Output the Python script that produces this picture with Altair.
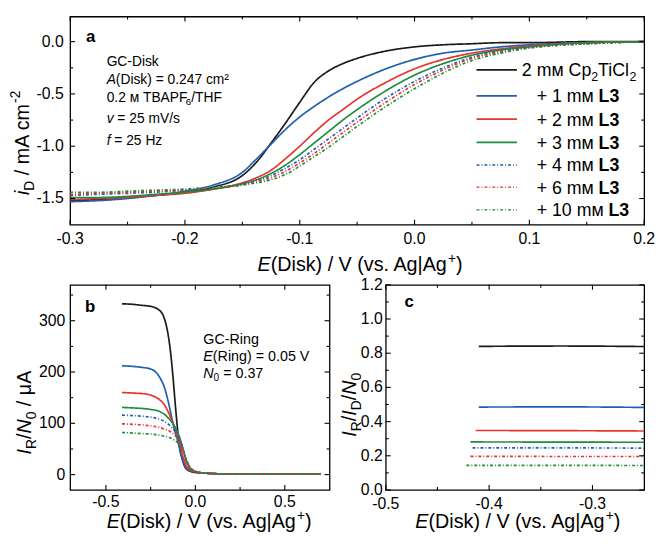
import altair as alt
import pandas as pd

FONT = "Liberation Sans"

# ---------------- data ----------------
SERIES = ["2 mM Cp2TiCl2", "+ 1 mM L3", "+ 2 mM L3", "+ 3 mM L3",
          "+ 4 mM L3", "+ 6 mM L3", "+ 10 mM L3"]
L3_AMOUNTS = [1, 2, 3, 4, 6, 10]
COLORS = ["#1a1a1a", "#1f5fb0", "#e8322e", "#1e8c3c", "#1f5fb0", "#e8322e", "#1e8c3c"]
DASHES = [[1, 0], [1, 0], [1, 0], [1, 0], [3, 2, 1, 2], [3, 2, 1, 2], [3, 2, 1, 2]]
WIDTHS = [1.7, 1.7, 1.7, 1.7, 1.3, 1.3, 1.3]

# panel a: disk current density i_D (mA cm^-2) vs E(Disk)
E_A = [-0.30, -0.275, -0.25, -0.225, -0.20, -0.175, -0.15, -0.1375, -0.125, -0.1125,
       -0.10, -0.0875, -0.075, -0.0625, -0.05, -0.025, 0.00, 0.025, 0.05, 0.075,
       0.10, 0.15, 0.20]
ID_0 = [-1.52, -1.51, -1.49, -1.47, -1.44, -1.39, -1.28, -1.15, -0.97, -0.78,
        -0.58, -0.39, -0.28, -0.21, -0.16, -0.09, -0.05, -0.03, -0.02, -0.01,
        -0.01, 0.0, 0.0]
ID_1 = [-1.53, -1.52, -1.50, -1.47, -1.43, -1.37, -1.25, -1.12, -0.98, -0.84,
        -0.72, -0.62, -0.53, -0.45, -0.38, -0.26, -0.17, -0.11, -0.08, -0.05,
        -0.03, -0.01, 0.0]
ID_2 = [-1.51, -1.50, -1.49, -1.47, -1.45, -1.41, -1.35, -1.30, -1.23, -1.12,
        -1.00, -0.87, -0.75, -0.65, -0.55, -0.39, -0.26, -0.17, -0.11, -0.07,
        -0.04, -0.01, 0.0]
ID_3 = [-1.49, -1.49, -1.48, -1.46, -1.44, -1.41, -1.36, -1.32, -1.26, -1.18,
        -1.08, -0.97, -0.86, -0.75, -0.65, -0.47, -0.32, -0.21, -0.13, -0.08,
        -0.05, -0.01, 0.0]
ID_4 = [-1.47, -1.46, -1.45, -1.44, -1.42, -1.40, -1.36, -1.33, -1.28, -1.21,
        -1.13, -1.03, -0.93, -0.83, -0.73, -0.54, -0.38, -0.25, -0.15, -0.09,
        -0.05, -0.02, 0.0]
ID_6 = [-1.46, -1.45, -1.44, -1.43, -1.42, -1.40, -1.37, -1.34, -1.30, -1.24,
        -1.16, -1.07, -0.97, -0.87, -0.77, -0.58, -0.41, -0.27, -0.16, -0.10,
        -0.06, -0.02, 0.0]
ID_10 = [-1.44, -1.44, -1.43, -1.42, -1.41, -1.39, -1.37, -1.35, -1.32, -1.27,
         -1.19, -1.10, -1.01, -0.91, -0.81, -0.62, -0.45, -0.30, -0.18, -0.11,
         -0.06, -0.02, 0.0]

# panel b: I_R/N_0 (uA) vs E(Disk)
E_B = [-0.41, -0.35, -0.30, -0.25, -0.20, -0.175, -0.15, -0.1375, -0.125, -0.1125,
       -0.10, -0.0875, -0.075, -0.0625, -0.05, -0.025, 0.0, 0.05, 0.10, 0.20,
       0.30, 0.50, 0.70]
IR_0 = [333, 332, 330, 328, 320, 306, 268, 235, 190, 138, 90, 52, 33, 18, 11, 6, 4, 3, 2, 1, 1, 1, 1]
IR_1 = [212, 211, 209, 206, 190, 172, 140, 120, 100, 82, 68, 49, 32, 20, 12, 7, 5, 3, 2, 1, 1, 1, 1]
IR_2 = [160, 159, 158, 155, 146, 137, 121, 111, 100, 90, 78, 62, 42, 28, 16, 8, 5, 3, 2, 1, 1, 1, 1]
IR_3 = [131, 130, 129, 127, 123, 118, 110, 105, 99, 92, 83, 72, 58, 41, 26, 10, 6, 3, 2, 1, 1, 1, 1]
IR_4 = [116, 115, 114, 112, 108, 104, 98, 94, 89, 84, 77, 68, 57, 42, 27, 11, 6, 3, 2, 1, 1, 1, 1]
IR_6 = [99, 98, 97, 95, 92, 89, 86, 83, 80, 76, 71, 64, 55, 42, 28, 12, 6, 3, 2, 1, 1, 1, 1]
IR_10 = [82, 81, 80, 79, 77, 75, 73, 71, 69, 66, 63, 58, 51, 41, 29, 13, 7, 3, 2, 1, 1, 1, 1]

# panel c: I_R/I_D/N_0 vs E(Disk)
E_C_START = [-0.410, -0.410, -0.413, -0.418, -0.416, -0.418, -0.422]
E_C_MID = [-0.33, -0.33, -0.33, -0.33, -0.33, -0.33, -0.33]
E_C_END = [-0.25, -0.25, -0.25, -0.25, -0.25, -0.25, -0.25]
RATIO_START = [0.840, 0.485, 0.348, 0.281, 0.246, 0.197, 0.144]
RATIO_MID = [0.842, 0.486, 0.347, 0.280, 0.246, 0.196, 0.144]
RATIO_END = [0.839, 0.483, 0.345, 0.279, 0.245, 0.196, 0.143]

# axis tick values
XMAJ_A = [-0.3, -0.2, -0.1, 0.0, 0.1, 0.2]
XMIN_A = [-0.25, -0.15, -0.05, 0.05, 0.15]
YMAJ_A = [0.0, -0.5, -1.0, -1.5]
YMIN_A = [-0.25, -0.75, -1.25]
XMAJ_B = [-0.5, 0.0, 0.5]
XMIN_B = [-0.25, 0.25]
YMAJ_B = [0, 100, 200, 300]
YMIN_B = [50, 150, 250, 350]
XMAJ_C = [-0.5, -0.4, -0.3]
XMIN_C = [-0.45, -0.35]
YMAJ_C = [0.0, 0.2, 0.4, 0.6, 0.8, 1.0, 1.2]
YMIN_C = [0.1, 0.3, 0.5, 0.7, 0.9, 1.1]

# ---------------- tables ----------------
def long_table(xs, ys_list):
    rows = []
    for s, ys in zip(SERIES, ys_list):
        for x, y in zip(xs, ys):
            rows.append({"E": x, "v": y, "s": s})
    return pd.DataFrame(rows)

df_a = long_table(E_A, [ID_0, ID_1, ID_2, ID_3, ID_4, ID_6, ID_10])
df_b = long_table(E_B, [IR_0, IR_1, IR_2, IR_3, IR_4, IR_6, IR_10])
rows_c = []
for i, s in enumerate(SERIES):
    for x, y in ((E_C_START[i], RATIO_START[i]), (E_C_MID[i], RATIO_MID[i]),
                 (E_C_END[i], RATIO_END[i])):
        rows_c.append({"E": x, "v": y, "s": s})
df_c = pd.DataFrame(rows_c)

ONE = pd.DataFrame({"k": [0]})

# ---------------- text helpers ----------------
W = {' ': .278, '(': .333, ')': .333, '+': .584, '-': .333, '.': .278, '/': .278,
     '=': .584, '|': .26, 'A': .667, 'C': .722, 'D': .722, 'E': .667, 'F': .611,
     'G': .778, 'H': .722, 'I': .278, 'K': .667, 'L': .556, 'M': .833, 'N': .722,
     'P': .667, 'R': .722, 'S': .667, 'T': .611, 'V': .667, 'a': .556, 'c': .5,
     'd': .556, 'e': .556, 'f': .278, 'g': .556, 'i': .222, 'k': .5, 'l': .222,
     'm': .833, 'n': .556, 'o': .556, 'p': .556, 'r': .333, 's': .5, 't': .278,
     'v': .5, 'z': .5, 'μ': .576, '²': .333, 'м': .68}


def text_width(t):
    return sum(W.get(ch, 0.556) for ch in t)


def rich(segs, x, y, size, rotate=False, sub_scale=0.7):
    out = []
    d = 0.0
    for txt, st in segs:
        small = st in ("sub", "sup")
        fs = size * sub_scale if small else size
        shift = 0.25 * size if st == "sub" else (-0.42 * size if st == "sup" else 0.0)
        lead = len(txt) - len(txt.lstrip(" "))
        d += lead * W[" "] * fs
        core = txt.strip(" ")
        if core:
            if rotate:
                px, py = x + shift, y - d
            else:
                px, py = x + d, y + shift
            mk = dict(text=core, font=FONT, fontSize=fs, align="left",
                      baseline="alphabetic", color="black")
            if st == "i":
                mk["fontStyle"] = "italic"
            if st == "b":
                mk["fontWeight"] = "bold"
            if rotate:
                mk["angle"] = 270
            out.append(alt.Chart(ONE).mark_text(**mk).encode(x=alt.value(px), y=alt.value(py)))
        d += text_width(txt.lstrip(" ")) * fs
    return out


def labels_df(vals, fmt):
    return pd.DataFrame({"t": vals, "lab": [format(v, fmt) for v in vals]})


def panel(df, xdom, ydom, xmaj, xmin_, ymaj, ymin_, xfmt, yfmt, xpad, ypad, w, h, extra):
    xs = alt.Scale(domain=xdom, nice=False, zero=False)
    ys = alt.Scale(domain=ydom, nice=False, zero=False)
    main = alt.Chart(df).mark_line(interpolate="monotone", clip=True).encode(
        x=alt.X("E:Q", scale=xs, axis=None),
        y=alt.Y("v:Q", scale=ys, axis=None),
        color=alt.Color("s:N", scale=alt.Scale(domain=SERIES, range=COLORS), legend=None),
        strokeDash=alt.StrokeDash("s:N", scale=alt.Scale(domain=SERIES, range=DASHES), legend=None),
        strokeWidth=alt.StrokeWidth("s:N", scale=alt.Scale(domain=SERIES, range=WIDTHS), legend=None),
    )
    layers = [main]
    for vals, size in ((xmaj, 5), (xmin_, 3)):
        tdf = pd.DataFrame({"t": vals})
        for y0, y1 in ((h, h - size), (0, size)):
            layers.append(alt.Chart(tdf).mark_rule(color="black", strokeWidth=1.1).encode(
                x=alt.X("t:Q", scale=xs, axis=None), y=alt.value(y0), y2=alt.value(y1)))
    for vals, size in ((ymaj, 5), (ymin_, 3)):
        tdf = pd.DataFrame({"t": vals})
        for x0, x1 in ((0, size), (w, w - size)):
            layers.append(alt.Chart(tdf).mark_rule(color="black", strokeWidth=1.1).encode(
                y=alt.Y("t:Q", scale=ys, axis=None), x=alt.value(x0), x2=alt.value(x1)))
    # tick labels
    layers.append(alt.Chart(labels_df(xmaj, xfmt)).mark_text(
        font=FONT, fontSize=16, color="black", align="center", baseline="middle").encode(
        x=alt.X("t:Q", scale=xs, axis=None), y=alt.value(h + xpad), text="lab:N"))
    layers.append(alt.Chart(labels_df(ymaj, yfmt)).mark_text(
        font=FONT, fontSize=16, color="black", align="right", baseline="middle").encode(
        y=alt.Y("t:Q", scale=ys, axis=None), x=alt.value(-ypad), text="lab:N"))
    return alt.layer(*layers, *extra).properties(width=w, height=h)


XT = [("E", "i"), ("(Disk) / V (vs. Ag|Ag", "n"), ("+", "sup"), (")", "n")]

HA = 211   # height of panel a
HB = 208   # height of panels b, c

# ---------------- panel a ----------------
extra_a = []
extra_a += rich([("a", "b")], 16, 26, 17)
ann_a = [
    [("GC-Disk", "n")],
    [("A", "i"), ("(Disk) = 0.247 cm²", "n")],
    [("0.2 м TBAPF", "n"), ("6", "sub"), ("/THF", "n")],
    [("v", "i"), (" = 25 mV/s", "n")],
    [("f", "i"), (" = 25 Hz", "n")],
]
for segs, yb in zip(ann_a, [50, 68, 86.5, 108, 130]):
    extra_a += rich(segs, 37, yb, 14)
leg_y = [54, 80.5, 104, 127.5, 150.5, 173, 196]
for i, yy in enumerate(leg_y):
    extra_a.append(alt.Chart(ONE).mark_rule(color=COLORS[i], strokeDash=DASHES[i],
                                            strokeWidth=WIDTHS[i]).encode(
        x=alt.value(412), x2=alt.value(453), y=alt.value(yy)))
    if i == 0:
        segs = [("2 mм Cp", "n"), ("2", "sub"), ("TiCl", "n"), ("2", "sub")]
        extra_a += rich(segs, 458, yy + 6.5, 18)
    else:
        segs = [(f"+ {L3_AMOUNTS[i - 1]} mм ", "n"), ("L3", "b")]
        extra_a += rich(segs, 473, yy + 6.5, 18)
extra_a += rich(XT, 190, HA + 47, 20)
extra_a += rich([("i", "i"), ("D", "sub"), (" / mA cm", "n"), ("-2", "sup")],
                -42, 181, 20, rotate=True)

pa = panel(df_a, [-0.3, 0.2], [-1.75, 0.24], XMAJ_A, XMIN_A, YMAJ_A, YMIN_A,
           ".1f", ".1f", 14.5, 6.5, 582, HA, extra_a)

# ---------------- panel b ----------------
extra_b = []
extra_b += rich([("b", "b")], 15, 28, 17)
ann_b = [
    [("GC-Ring", "n")],
    [("E", "i"), ("(Ring) = 0.05 V", "n")],
    [("N", "i"), ("0", "sub"), (" = 0.37", "n")],
]
for segs, yb in zip(ann_b, [60, 77.5, 94]):
    extra_b += rich(segs, 135, yb, 14.5)
extra_b += rich(XT, 37, HB + 39, 20)
extra_b += rich([("I", "i"), ("R", "sub"), ("/", "n"), ("N", "i"), ("0", "sub"), (" / μA", "n")],
                -40, 172, 20, rotate=True)

pb = panel(df_b, [-0.7, 0.75], [-30, 370], XMAJ_B, XMIN_B, YMAJ_B, YMIN_B,
           ".1f", "d", 12.5, 5, 263, HB, extra_b)

# ---------------- panel c ----------------
extra_c = []
extra_c += rich([("c", "b")], 19, 22, 17)
extra_c += rich(XT, 30, HB + 39, 20)
extra_c += rich([("I", "i"), ("R", "sub"), ("/", "n"), ("I", "i"), ("D", "sub"), ("/", "n"),
                 ("N", "i"), ("0", "sub")], -30, 154, 20, rotate=True)

pc = panel(df_c, [-0.5, -0.25], [0.0, 1.2], XMAJ_C, XMIN_C, YMAJ_C, YMIN_C,
           ".1f", ".1f", 14, 3, 262, HB, extra_c)

chart = alt.vconcat(
    pa,
    alt.hconcat(pb, pc, spacing=57, bounds="flush"),
    spacing=61, bounds="flush",
).properties(
    padding={"left": 0, "top": 3, "right": 0, "bottom": 0}
).configure(font=FONT).configure_view(stroke="black", strokeWidth=1.3)

chart.save("out.html", embed_options={"renderer": "svg", "actions": False})
